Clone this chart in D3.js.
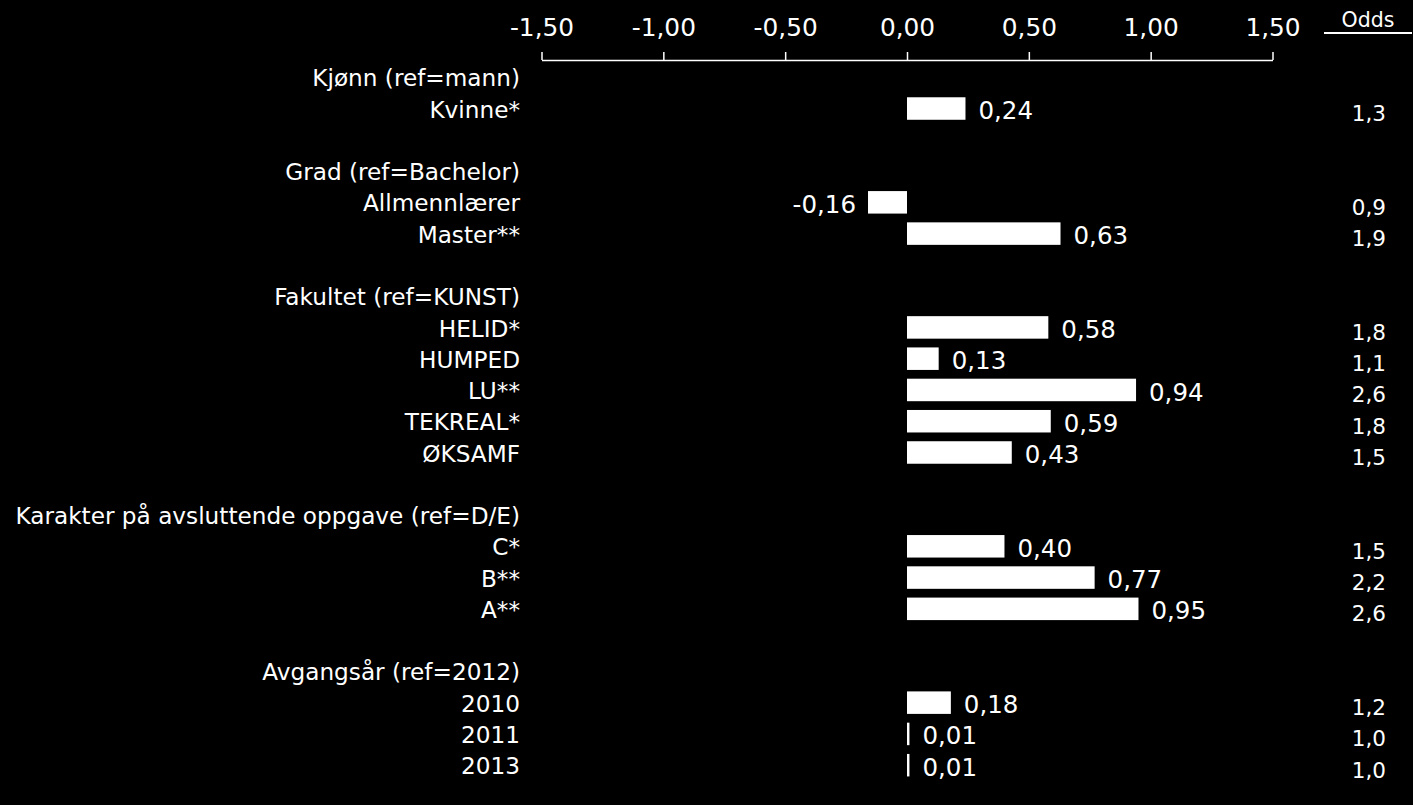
<!DOCTYPE html>
<html>
<head>
<meta charset="utf-8">
<script src="https://cdn.jsdelivr.net/npm/d3@7"></script>
<style>
  html, body { margin: 0; padding: 0; background: #000; }
  svg { display: block; background: #000; }
  text { font-family: "DejaVu Sans", Verdana, sans-serif; fill: #fff; }
</style>
</head>
<body>
<svg id="chart" width="1413" height="805"></svg>
<script>
const rowLabels = [
  "Kjønn (ref=mann)", "Kvinne*", "",
  "Grad (ref=Bachelor)", "Allmennlærer", "Master**", "",
  "Fakultet (ref=KUNST)", "HELID*", "HUMPED", "LU**", "TEKREAL*", "ØKSAMF", "",
  "Karakter på avsluttende oppgave (ref=D/E)", "C*", "B**", "A**", "",
  "Avgangsår (ref=2012)", "2010", "2011", "2013"
];
const coefficients = [
  null, 0.24, null,
  null, -0.16, 0.63, null,
  null, 0.58, 0.13, 0.94, 0.59, 0.43, null,
  null, 0.40, 0.77, 0.95, null,
  null, 0.18, 0.01, 0.01
];
const oddsValues = [
  null, 1.3, null,
  null, 0.9, 1.9, null,
  null, 1.8, 1.1, 2.6, 1.8, 1.5, null,
  null, 1.5, 2.2, 2.6, null,
  null, 1.2, 1.0, 1.0
];
const tickValues = [-1.5, -1.0, -0.5, 0, 0.5, 1.0, 1.5];
const oddsHeader = "Odds";

const locale = d3.formatLocale({decimal: ",", thousands: " ", grouping: [3], currency: ["", " kr"], minus: "-"});
const fmt2 = locale.format(".2f");
const fmt1 = locale.format(".1f");

const svg = d3.select("#chart");

const x = d3.scaleLinear().domain([-1.5, 1.5]).range([541.5, 1272.5]);
const step = 31.27;
const y = d3.scaleBand()
  .domain(d3.range(rowLabels.length))
  .range([78 - step / 2, 78 + step * (rowLabels.length - 0.5)])
  .padding(0);
const yc = i => y(i) + y.bandwidth() / 2;

// Axis on top
const axis = d3.axisTop(x)
  .tickValues(tickValues)
  .tickSize(8)
  .tickSizeOuter(0)
  .tickPadding(16)
  .tickFormat(fmt2);

const gAxis = svg.append("g")
  .attr("transform", "translate(0,60)")
  .call(axis);
gAxis.select(".domain").attr("stroke", "#fff").attr("stroke-width", 1.5);
gAxis.selectAll(".tick line").attr("stroke", "#fff").attr("stroke-width", 1.5);
gAxis.selectAll(".tick text")
  .attr("fill", "#fff")
  .style("font-family", "'DejaVu Sans', Verdana, sans-serif")
  .style("font-size", "24.8px");

// Odds header
svg.append("text")
  .attr("x", 1368).attr("y", 27)
  .attr("text-anchor", "middle")
  .style("font-size", "20.5px")
  .text(oddsHeader);
svg.append("line")
  .attr("x1", 1324).attr("x2", 1412)
  .attr("y1", 33).attr("y2", 33)
  .attr("stroke", "#fff").attr("stroke-width", 2);

const idx = d3.range(rowLabels.length);

// Row labels
svg.append("g").selectAll("text")
  .data(idx.filter(i => rowLabels[i] !== ""))
  .join("text")
  .attr("x", 520)
  .attr("y", i => yc(i))
  .attr("dy", "0.36em")
  .attr("text-anchor", "end")
  .style("font-size", "23.2px")
  .text(i => rowLabels[i]);

const dataIdx = idx.filter(i => coefficients[i] !== null);

// Bars
svg.append("g").selectAll("rect")
  .data(dataIdx)
  .join("rect")
  .attr("x", i => x(Math.min(0, coefficients[i])))
  .attr("width", i => Math.abs(x(coefficients[i]) - x(0)))
  .attr("y", i => yc(i) - 12)
  .attr("height", 22.5)
  .attr("fill", "#fff");

// Value labels
svg.append("g").selectAll("text")
  .data(dataIdx)
  .join("text")
  .attr("x", i => coefficients[i] >= 0 ? x(coefficients[i]) + 13 : x(coefficients[i]) - 12)
  .attr("y", i => yc(i) + 1)
  .attr("dy", "0.36em")
  .attr("text-anchor", i => coefficients[i] >= 0 ? "start" : "end")
  .style("font-size", "24.5px")
  .text(i => fmt2(coefficients[i]));

// Odds values
svg.append("g").selectAll("text")
  .data(dataIdx)
  .join("text")
  .attr("x", 1386)
  .attr("y", i => yc(i) + 4)
  .attr("dy", "0.36em")
  .attr("text-anchor", "end")
  .style("font-size", "21.5px")
  .text(i => fmt1(oddsValues[i]));
</script>
</body>
</html>
